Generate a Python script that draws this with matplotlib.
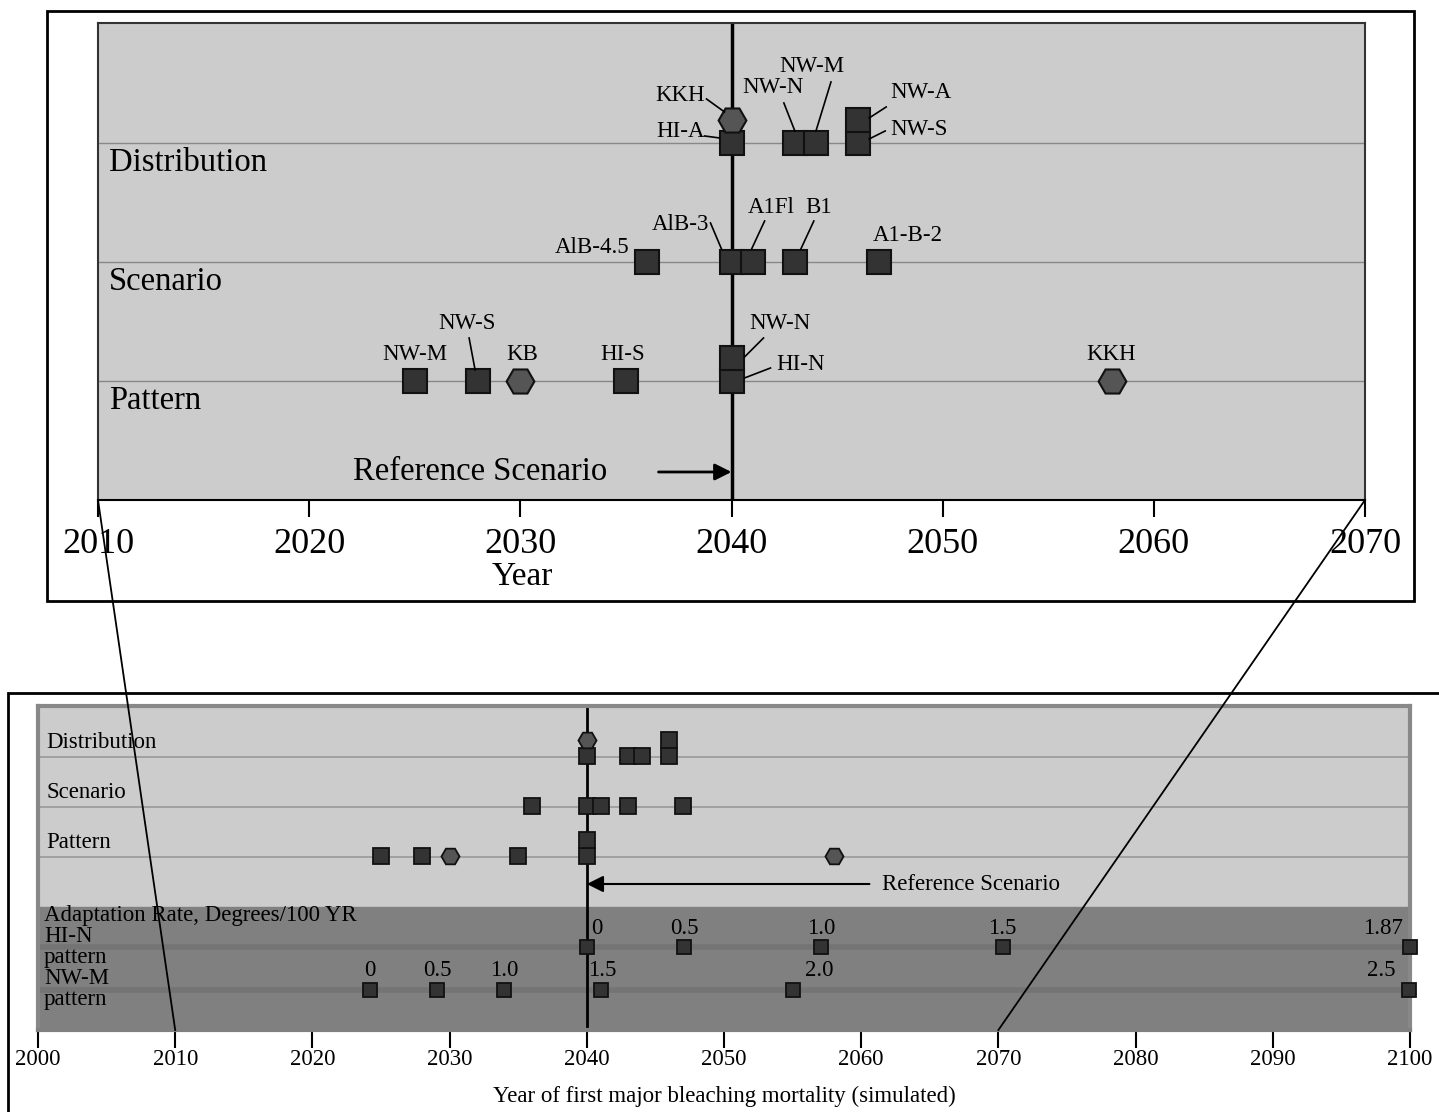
import matplotlib.pyplot as plt
from matplotlib.patches import Rectangle
from matplotlib.lines import Line2D

plt.rcParams['font.family'] = ['Liberation Serif', 'DejaVu Serif']

# ---- data (year of first major bleaching mortality) ----
dist_labels = ['HI-A', 'KKH', 'NW-N', 'NW-M', 'NW-S', 'NW-A']
dist_years = [2040, 2040, 2043, 2044, 2046, 2046]
dist_shapes = ['s', 'H', 's', 's', 's', 's']

scen_labels = ['AlB-4.5', 'AlB-3', 'A1Fl', 'B1', 'A1-B-2']
scen_years = [2036, 2040, 2041, 2043, 2047]
scen_shapes = ['s', 's', 's', 's', 's']

patt_labels = ['NW-M', 'NW-S', 'KB', 'HI-S', 'HI-N', 'NW-N', 'KKH']
patt_years = [2025, 2028, 2030, 2035, 2040, 2040, 2058]
patt_shapes = ['s', 's', 'H', 's', 's', 's', 'H']

reference_year = 2040

adapt_hin_rates = ['0', '0.5', '1.0', '1.5', '1.87']
adapt_hin_years = [2040, 2047.1, 2057.1, 2070.3, 2100]
adapt_nwm_rates = ['0', '0.5', '1.0', '1.5', '2.0', '2.5']
adapt_nwm_years = [2024.2, 2029.1, 2034, 2041, 2055, 2099.9]

row_names = ['Distribution', 'Scenario', 'Pattern']

# ---- figure ----
W, H = 1439, 1112
fig = plt.figure(figsize=(W / 100, H / 100), dpi=100)


def px_axes(l, t, r, b):
    return fig.add_axes([l / W, 1 - b / H, (r - l) / W, (b - t) / H])


def stack(years):
    # markers with the same year are piled on top of each other
    seen = {}
    out = []
    for y in years:
        out.append(seen.get(y, 0))
        seen[y] = seen.get(y, 0) + 1
    return out


# outer frames
fig.patches.append(Rectangle((47 / W, 1 - 601 / H), (1414 - 47) / W, (601 - 11) / H,
                             transform=fig.transFigure, fill=False, lw=2, ec='black'))
fig.patches.append(Rectangle((8 / W, 1 - 1140 / H), 1500 / W, (1140 - 693) / H,
                             transform=fig.transFigure, fill=False, lw=2, ec='black'))

# ================= top (zoomed) panel =================
ax = px_axes(98, 23, 1365, 500)
ax.set_facecolor('#cccccc')
ax.set_xlim(2010, 2070)
ax.set_ylim(0, 4.008)
for s in ax.spines.values():
    s.set_color('#333333')
    s.set_linewidth(1.5)
ax.spines['bottom'].set_color('black')
ax.set_yticks([])
ax.set_xticks(range(2010, 2071, 10))
ax.tick_params(axis='x', direction='out', length=12, width=1.5, labelsize=26, pad=8)
fig.text(522 / W, 1 - 577 / H, 'Year', fontsize=24, ha='center', va='center')

xpp = 60 / 1267.0      # years per pixel
ypp = 4.008 / 477.0    # y units per pixel
top_rows = {3: (dist_labels, dist_years, dist_shapes),
            2: (scen_labels, scen_years, scen_shapes),
            1: (patt_labels, patt_years, patt_shapes)}

for yrow, name in zip([3, 2, 1], row_names):
    ax.axhline(yrow, color='#888888', lw=1, zorder=1)
    ax.text(2010 + 11 * xpp, yrow - 20 * ypp, name, fontsize=23.5, va='center', ha='left')

ax.axvline(reference_year, color='black', lw=2.5, zorder=2)

stack_top = 23 * ypp
for yrow, (labels, years, shapes) in top_rows.items():
    lev = stack(years)
    for lab, yr, shp, lv in zip(labels, years, shapes, lev):
        fc = '#555555' if shp == 'H' else '#333333'
        ms = 20 if shp == 'H' else 17.5
        ax.plot(yr, yrow + lv * stack_top, marker=shp, ms=ms, mfc=fc, mec='#111111',
                mew=1.5, ls='none', zorder=4)

# label placement: (text dx, text dy, ha, leader start px, leader end px) relative to marker
top_label_layout = {
    (3, 'KKH'): (-27, -24, 'right', (-25, -21), (-7, -8)),
    (3, 'HI-A'): (-27, -11, 'right', (-27, -7), (-12, -5)),
    (3, 'NW-N'): (-53, -55, 'left', (-11, -40), (0, -12)),
    (3, 'NW-M'): (-37, -76, 'left', (15, -61), (0, -12)),
    (3, 'NW-A'): (32, -27, 'left', (28, -13), (11, -2)),
    (3, 'NW-S'): (32, -13, 'left', (27, -12), (11, -4)),
    (2, 'AlB-4.5'): (-18, -14, 'right', None, None),
    (2, 'AlB-3'): (-22, -37, 'right', (-21, -39), (-10, -13)),
    (2, 'A1Fl'): (-5, -54, 'left', (12, -41), (-1, -13)),
    (2, 'B1'): (10, -54, 'left', (19, -41), (6, -13)),
    (2, 'A1-B-2'): (-7, -26, 'left', None, None),
    (1, 'NW-M'): (0, -26, 'center', None, None),
    (1, 'NW-S'): (-11, -57, 'center', (-9, -43), (-3, -11)),
    (1, 'KB'): (2, -26, 'center', None, None),
    (1, 'HI-S'): (-3, -26, 'center', None, None),
    (1, 'NW-N'): (48, -34, 'center', (32, -20), (13, -1)),
    (1, 'HI-N'): (69, -16, 'center', (39, -13), (13, -3)),
    (1, 'KKH'): (0, -26, 'center', None, None),
}

for yrow, (labels, years, shapes) in top_rows.items():
    lev = stack(years)
    for lab, yr, lv in zip(labels, years, lev):
        dx, dy, ha, p0, p1 = top_label_layout[(yrow, lab)]
        y0 = yrow + lv * stack_top
        ax.text(yr + dx * xpp, y0 - dy * ypp, lab, fontsize=16.5, ha=ha, va='center', zorder=5)
        if p0 is not None:
            ax.plot([yr + p0[0] * xpp, yr + p1[0] * xpp],
                    [y0 - p0[1] * ypp, y0 - p1[1] * ypp], color='black', lw=1.2, zorder=5)

ref_y = 1 - 91 * ypp
ax.annotate('', xy=(reference_year, ref_y), xytext=(reference_year - 73 * xpp, ref_y),
            arrowprops=dict(arrowstyle='-|>', color='black', lw=2, mutation_scale=25,
                            shrinkA=0, shrinkB=0))
ax.text(reference_year - 124 * xpp, ref_y, 'Reference Scenario', fontsize=23.5,
        ha='right', va='center')

# ================= bottom (full) panel =================
bx = px_axes(38, 706, 1410, 1030)
bx.set_xlim(2000, 2100)
bx.set_ylim(-0.46, 6.02)
bx.set_facecolor('#cccccc')
bx.axhspan(-0.46, 2.0, color='#808080', zorder=0)
for s in bx.spines.values():
    s.set_color('#888888')
    s.set_linewidth(3)
bx.spines['bottom'].set_color('#808080')
bx.set_yticks([])
bx.set_xticks(range(2000, 2101, 10))
bx.tick_params(axis='x', direction='out', length=13, width=1.5, labelsize=16.5, pad=1)
bx.set_xlabel('Year of first major bleaching mortality (simulated)', fontsize=16.5, labelpad=11)

bxpp = 100 / 1372.0
bypp = 1 / 50.0
bottom_rows = {5: (dist_labels, dist_years, dist_shapes),
               4: (scen_labels, scen_years, scen_shapes),
               3: (patt_labels, patt_years, patt_shapes)}
for yrow, name in zip([5, 4, 3], row_names):
    bx.axhline(yrow, color='#999999', lw=1.2, zorder=1)
    bx.text(2000 + 8 * bxpp, yrow + 15 * bypp, name, fontsize=16.5, va='center', ha='left')

bx.axvline(reference_year, color='black', lw=2, zorder=2)

for yrow, (labels, years, shapes) in bottom_rows.items():
    lev = stack(years)
    for lab, yr, shp, lv in zip(labels, years, shapes, lev):
        fc = '#555555' if shp == 'H' else '#333333'
        ms = 13 if shp == 'H' else 11
        bx.plot(yr, yrow + 1 * bypp + lv * 16 * bypp, marker=shp, ms=ms, mfc=fc,
                mec='#111111', mew=1.3, ls='none', zorder=4)

ref_by = 3 - 27 * bypp
bx.annotate('', xy=(reference_year, ref_by), xytext=(2060.6, ref_by),
            arrowprops=dict(arrowstyle='-|>', color='black', lw=1.5, mutation_scale=25,
                            shrinkA=0, shrinkB=0))
bx.text(2061.5, ref_by, 'Reference Scenario', fontsize=16.5, ha='left', va='center')

# adaptation rate rows (dark band)
hin_y = 3 - (947 - 857) * bypp
nwm_y = 3 - (990 - 857) * bypp
bx.axhline(hin_y, color='#747474', lw=4, zorder=1)
bx.axhline(nwm_y, color='#747474', lw=4, zorder=1)
bx.text(2000 + 6 * bxpp, 3 - (916 - 857) * bypp, 'Adaptation Rate, Degrees/100 YR',
        fontsize=16.5, va='center', ha='left')
for txt, py in [('HI-N', 937), ('pattern', 958), ('NW-M', 979), ('pattern', 1000)]:
    bx.text(2000 + 6 * bxpp, 3 - (py - 857) * bypp, txt, fontsize=16.5, va='center',
            ha='left', linespacing=0.8)

hin_dx = [10, 0, 0, 0, -27]
nwm_dx = [0, 0, 0, 2, 27, -27]
for yrs, rates, yrow, dxs in [(adapt_hin_years, adapt_hin_rates, hin_y, hin_dx),
                              (adapt_nwm_years, adapt_nwm_rates, nwm_y, nwm_dx)]:
    bx.plot(yrs, [yrow] * len(yrs), marker='s', ms=10, mfc='#333333', mec='#111111',
            mew=1.3, ls='none', zorder=4, clip_on=False)
    for yr, r, dx in zip(yrs, rates, dxs):
        bx.text(yr + dx * bxpp, yrow + 19 * bypp, r, fontsize=16.5, ha='center', va='center')

# connector lines between the zoomed and full panels
for year in [2010, 2070]:
    x0 = (98 + (year - 2010) / xpp) / W
    x1 = (38 + (year - 2000) / bxpp) / W
    fig.lines.append(Line2D([x0, x1], [1 - 500 / H, 1 - 1030 / H],
                            transform=fig.transFigure, color='black', lw=1.3, zorder=10))

fig.savefig('out.png', dpi=100)
